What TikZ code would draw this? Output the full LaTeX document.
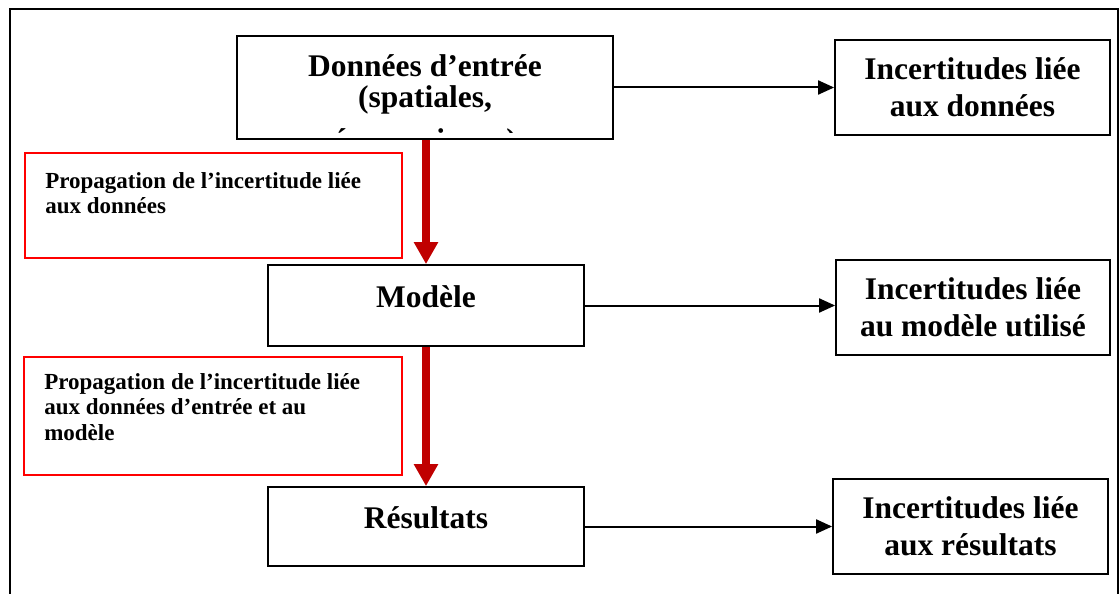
\documentclass[tikz,border=0pt]{standalone}
\usepackage{fontspec}
\setmainfont{Liberation Serif}
\usetikzlibrary{arrows.meta,positioning}

\definecolor{darkred}{RGB}{192,0,0}

\tikzset{
  box/.style={draw, line width=1.8pt, inner sep=0pt},
  propbox/.style={draw=red, line width=1.8pt, inner sep=0pt},
  bigtext/.style={font=\fontsize{31.5}{37}\selectfont\bfseries, align=center},
  smalltext/.style={font=\fontsize{23}{25.5}\selectfont\bfseries, align=left, inner sep=0pt},
  flow/.style={-{Triangle[length=22pt,width=23pt]}, line width=7.5pt, darkred},
  link/.style={-{Triangle[length=16pt,width=14pt]}, line width=2pt}
}

\begin{document}
\begin{tikzpicture}[x=1pt, y=-1pt]

  % page and outer frame
  \useasboundingbox (0,0) rectangle (1120,594);
  \draw[line width=2.5pt] (10,9) rectangle (1118,620);

  % centres of the boxes
  \coordinate (D) at (425,87.5);
  \coordinate (M) at (426,305.5);
  \coordinate (R) at (426,526.5);

  % main chain
  \node[box, minimum width=376, minimum height=103] (donnees) at (D) {};
  \node[box, bigtext, minimum width=316, minimum height=81, text height=22pt, text depth=19pt] (modele) at (M) {Modèle};
  \node[box, bigtext, minimum width=316, minimum height=79, text height=22pt, text depth=19pt] (resultats) at (R) {Résultats};

  % text of the first box, cut at the bottom
  \begin{scope}
    \clip ([shift={(2,2)}]donnees.north west) rectangle ([shift={(-2,-7)}]donnees.south east);
    \node[bigtext, anchor=north, inner sep=0pt, font=\fontsize{31.5}{31.5}\selectfont\bfseries] (donneesTxt) at ([shift={(0,19)}]donnees.north) {Données d’entrée\\(spatiales,\\[11pt]économiques)};
  \end{scope}

  % uncertainties on the right
  \node[box, bigtext, minimum width=275, minimum height=95] (incDonnees) at (972.5,87.5) {Incertitudes liée\\aux données};
  \node[box, bigtext, minimum width=274, minimum height=95] (incModele) at (973,307.5) {Incertitudes liée\\au modèle utilisé};
  \node[box, bigtext, minimum width=275, minimum height=95] (incResultats) at (970.5,526.5) {Incertitudes liée\\aux résultats};

  % propagation boxes
  \node[propbox, minimum width=377, minimum height=105] (prop1) at (213.5,205.5) {};
  \node[propbox, minimum width=378, minimum height=118] (prop2) at (213,416) {};
  \node[smalltext, anchor=north west] (prop1Txt) at ([shift={(21,20)}]prop1.north west) {Propagation de l’incertitude liée\\aux données};
  \node[smalltext, anchor=north west] (prop2Txt) at ([shift={(21,17)}]prop2.north west) {Propagation de l’incertitude liée\\aux données d’entrée et au\\modèle};

  % arrows
  \draw[flow] (donnees.south -| modele.north) -- (modele.north);
  \draw[flow] (modele.south) -- (resultats.north);
  \draw[link] (donnees.east) -- (incDonnees.west);
  \draw[link] (modele.east) -- (modele.east -| incModele.west);
  \draw[link] (resultats.east) -- (incResultats.west);

\end{tikzpicture}
\end{document}
